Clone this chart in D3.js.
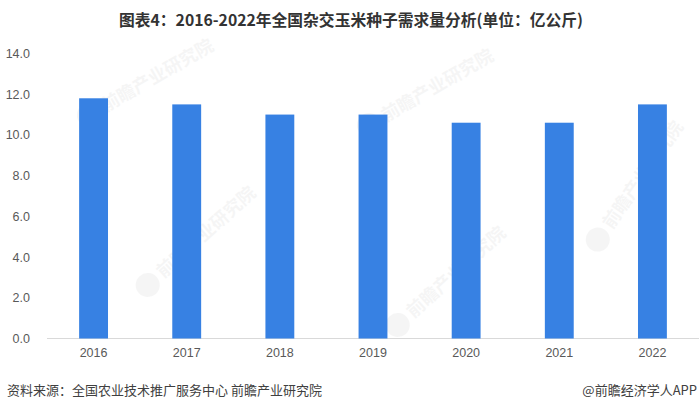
<!DOCTYPE html>
<html>
<head>
<meta charset="utf-8">
<script src="https://cdn.jsdelivr.net/npm/d3@7"></script>
<style>
html,body{margin:0;padding:0;background:#fff;}
svg{display:block;}
</style>
</head>
<body>
<svg id="chart" width="700" height="411"></svg>
<script>
const years = ["2016","2017","2018","2019","2020","2021","2022"];
const demand = [11.8, 11.5, 11.0, 11.0, 10.6, 10.6, 11.5];
const yTicks = [0, 2, 4, 6, 8, 10, 12, 14];
const titleText = "图表4：2016-2022年全国杂交玉米种子需求量分析(单位：亿公斤)";
const sourceText = "资料来源：全国农业技术推广服务中心 前瞻产业研究院";
const brandText = "@前瞻经济学人APP";
const watermarkText = "前瞻产业研究院";

const svg = d3.select("#chart");
const cjk = "'Noto Sans CJK SC','Noto Sans',sans-serif";
const latin = "'Liberation Sans',Arial,'Noto Sans CJK SC',sans-serif";

// watermarks (faint)
const wm = [[115,100,-30],[395,110,-30],[615,215,-55],[170,265,-42],[420,305,-42]];
wm.forEach(([x,y,a]) => {
  const g = svg.append("g").attr("transform", `translate(${x},${y}) rotate(${a})`).attr("opacity", 0.05);
  g.append("circle").attr("cx", -30).attr("cy", 0).attr("r", 12).attr("fill", "#555");
  g.append("text").attr("x", -14).attr("y", 6).attr("font-family", cjk).attr("font-size", 18)
    .attr("font-weight", "bold").attr("fill", "#555").text(watermarkText);
});

const x = d3.scaleBand().domain(years).range([47, 699]).paddingInner(0.69).paddingOuter(0.345);
const y = d3.scaleLinear().domain([0, 14]).range([338.5, 53.5]);

// axis line
svg.append("line").attr("x1", 47).attr("x2", 699).attr("y1", y(0)).attr("y2", y(0))
  .attr("stroke", "#d9d9d9").attr("stroke-width", 1);

// bars
svg.append("g").selectAll("rect").data(years).join("rect")
  .attr("x", d => x(d))
  .attr("width", x.bandwidth())
  .attr("y", (d, i) => y(demand[i]))
  .attr("height", (d, i) => y(0) - y(demand[i]))
  .attr("fill", "#3781e3");

// y tick labels
const yAxis = d3.axisLeft(y).tickValues(yTicks).tickFormat(d3.format(".1f")).tickSize(0).tickPadding(0);
const ya = svg.append("g").attr("transform", "translate(30,0)").call(yAxis);
ya.select(".domain").remove();
ya.selectAll("text").attr("font-family", latin).attr("font-size", 12.5).attr("fill", "#595959");

// x tick labels
const xAxis = d3.axisBottom(x).tickSize(0).tickPadding(10);
const xa = svg.append("g").attr("transform", `translate(0,${y(0)})`).call(xAxis);
xa.select(".domain").remove();
xa.selectAll("text").attr("font-family", latin).attr("font-size", 12.5).attr("fill", "#595959");

// title
svg.append("text").attr("x", 351).attr("y", 26).attr("text-anchor", "middle")
  .attr("font-family", cjk).attr("font-size", 16).attr("font-weight", "bold").attr("fill", "#333")
  .attr("textLength", 464).attr("lengthAdjust", "spacingAndGlyphs")
  .text(titleText);

// source
svg.append("text").attr("x", 7).attr("y", 395).attr("font-family", cjk).attr("font-size", 13)
  .attr("fill", "#404040").text(sourceText);
svg.append("text").attr("x", 697).attr("y", 395).attr("text-anchor", "end").attr("font-family", cjk)
  .attr("font-size", 13).attr("fill", "#404040").text(brandText);
</script>
</body>
</html>
